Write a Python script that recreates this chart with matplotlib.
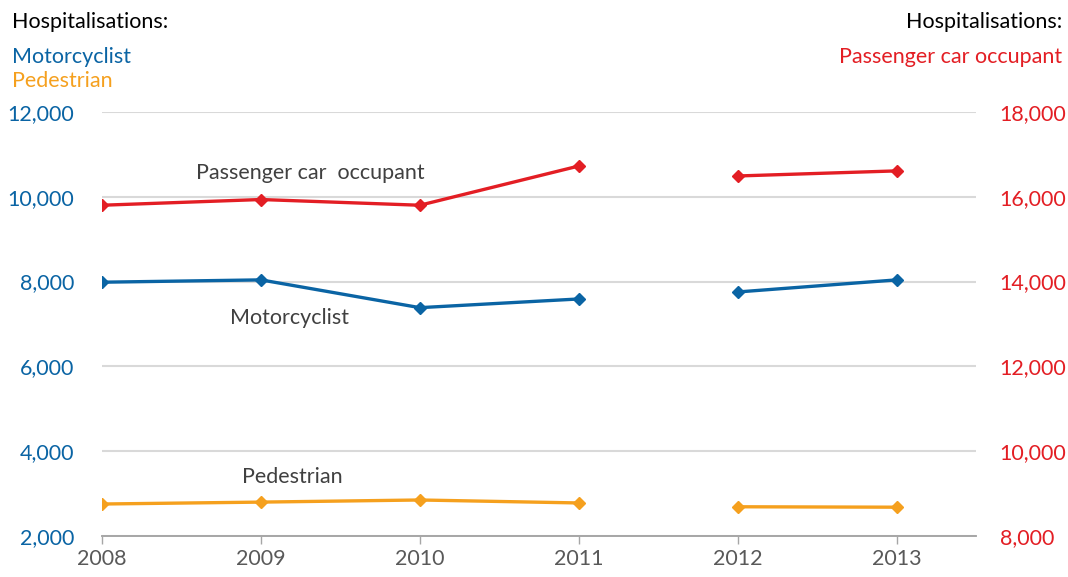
import numpy as np
import matplotlib.pyplot as plt

plt.rcParams['font.family'] = ['Lato', 'DejaVu Sans']

years       = [2008, 2009, 2010, 2011, 2012, 2013]
motorcycle  = [7985, 8040, 7385, 7590, 7755, 8040]
pedestrian  = [2755, 2800, 2850, 2780, 2690, 2680]
passenger   = [15800, 15935, 15800, 16725, 16490, 16610]
left_ticks  = [2000, 4000, 6000, 8000, 10000, 12000]
right_ticks = [8000, 10000, 12000, 14000, 16000, 18000]
split = 4  # line is broken between 2011 and 2012

c_blue = '#0a64a4'
c_red = '#e31e24'
c_orng = '#f5a01e'
c_grey = '#404040'
fs = 15.5

fig = plt.figure(figsize=(10.68, 5.77), dpi=100)
ax1 = fig.add_axes([0.0955, 0.071, 0.8185, 0.735])
ax2 = ax1.twinx()

for seg in (slice(0, split), slice(split, None)):
    ax1.plot(years[seg], motorcycle[seg], color=c_blue, lw=2.4, marker='D', ms=6.5, zorder=3)
    ax1.plot(years[seg], pedestrian[seg], color=c_orng, lw=2.4, marker='D', ms=6.5, zorder=3)
    ax2.plot(years[seg], passenger[seg], color=c_red, lw=2.4, marker='D', ms=6.5, zorder=3)

ax1.set_xlim(2008, 2013.5)
ax1.set_ylim(2000, 12000)
ax2.set_ylim(8000, 18000)
ax1.set_xticks(years)
ax1.set_xticklabels([str(y) for y in years], fontsize=fs, color='#595959')
ax1.set_yticks(left_ticks)
ax1.set_yticklabels([f'{v:,}' for v in left_ticks], fontsize=fs, color=c_blue)
ax2.set_yticks(right_ticks)
ax2.set_yticklabels([f'{v:,}' for v in right_ticks], fontsize=fs, color=c_red)

ax1.grid(axis='y', color='#d9d9d9', lw=1.5)
ax1.set_axisbelow(True)
for a in (ax1, ax2):
    for s in ('top', 'left', 'right'):
        a.spines[s].set_visible(False)
    a.spines['bottom'].set_color('#a6a6a6')
    a.spines['bottom'].set_linewidth(1.2)
ax1.tick_params(axis='y', length=0, pad=20)
ax2.tick_params(axis='y', length=0, pad=17)
ax1.tick_params(axis='x', length=5.5, color='#a6a6a6', width=1.0, pad=4)

ax1.text(2009.31, 10560, 'Passenger car  occupant', fontsize=fs, color=c_grey, ha='center', va='center')
ax1.text(2009.18, 7140, 'Motorcyclist', fontsize=fs, color=c_grey, ha='center', va='center')
ax1.text(2009.2, 3390, 'Pedestrian', fontsize=fs, color=c_grey, ha='center', va='center')

fig.text(12/1068, 1 - 22/577, 'Hospitalisations:', fontsize=fs, color='black', va='center')
fig.text(12/1068, 1 - 57/577, 'Motorcyclist', fontsize=fs, color=c_blue, va='center')
fig.text(12/1068, 1 - 81/577, 'Pedestrian', fontsize=fs, color=c_orng, va='center')
fig.text(1062/1068, 1 - 22/577, 'Hospitalisations:', fontsize=fs, color='black', va='center', ha='right')
fig.text(1062/1068, 1 - 57/577, 'Passenger car occupant', fontsize=fs, color=c_red, va='center', ha='right')

fig.savefig('out.png', dpi=100)
